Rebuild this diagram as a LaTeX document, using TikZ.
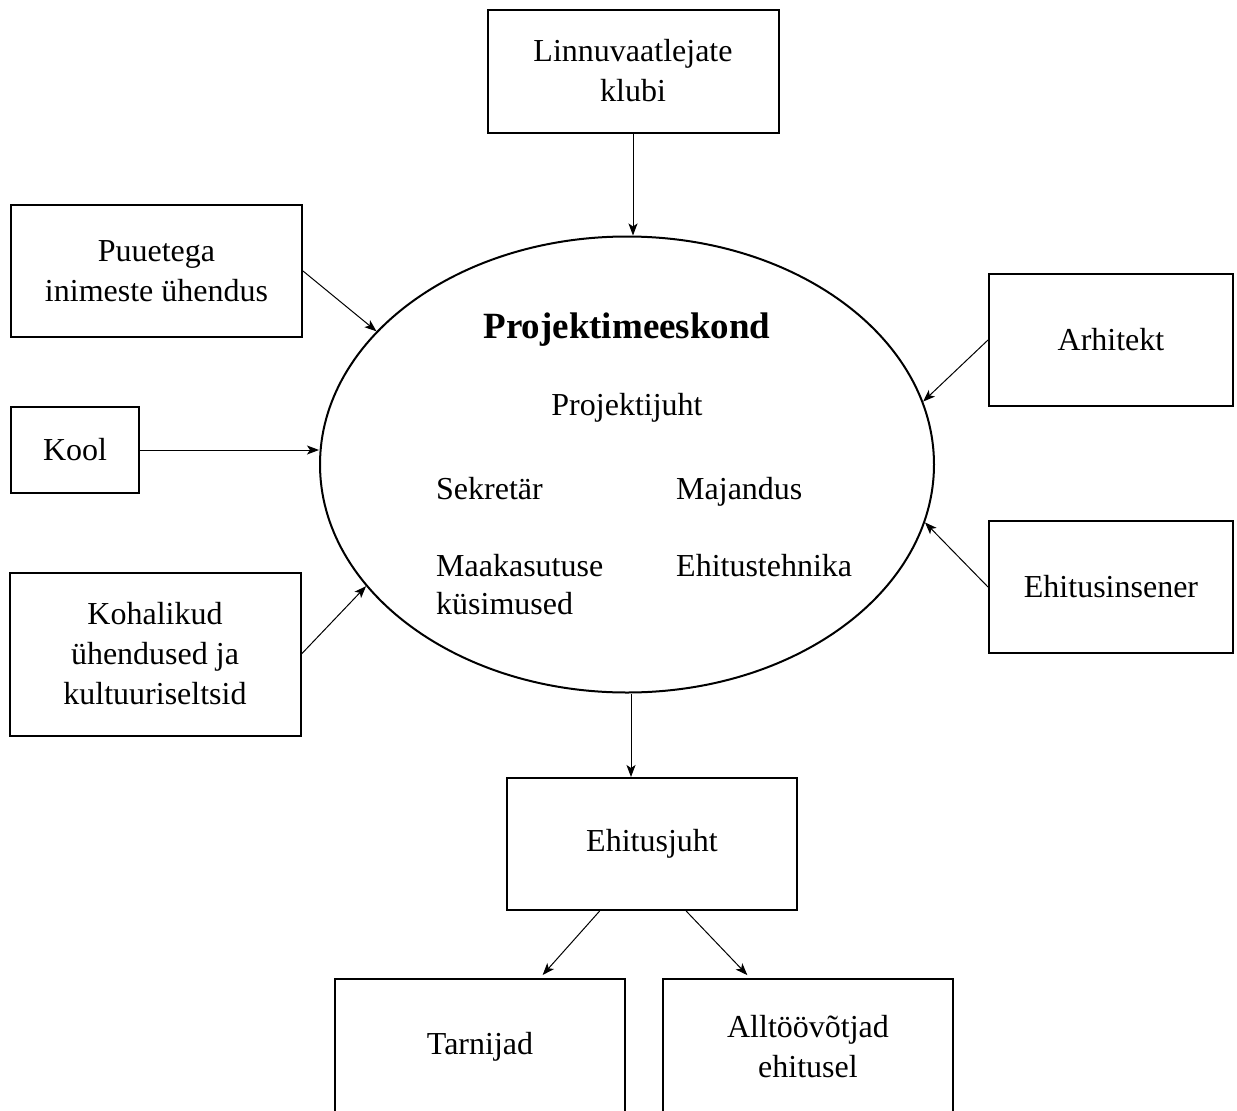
\documentclass[tikz,border=0pt]{standalone}
\usepackage{fontspec}
\setmainfont{Liberation Serif}
\usetikzlibrary{shapes.geometric, arrows.meta, positioning}

\begin{document}
\begin{tikzpicture}[
    x=1pt, y=-1pt,
    party/.style={rectangle, draw=black, line width=2pt, inner sep=0pt, minimum width=291pt, minimum height=132pt, align=center, font=\fontsize{32}{40}\selectfont},
    team/.style={ellipse, draw=black, line width=2pt, inner sep=0pt, minimum width=614pt, minimum height=456pt},
    role/.style={inner sep=0pt, align=left, text height=22pt, text depth=7pt, font=\fontsize{32}{38}\selectfont},
    arrow/.style={-{Stealth[length=12pt, width=9pt, inset=3pt]}, line width=1pt}
]
    \useasboundingbox (0,0) rectangle (1237,1111);

    % Project team in the middle
    \node (team) [team] at (627,464.5) {};
    \node (T_title) [role, text height=26pt, text depth=8pt, font=\fontsize{37}{44}\selectfont\bfseries] at (627,329) {Projektimeeskond};
    \node (T_lead) [role] at (627,408) {Projektijuht};
    \node (T_secr) [role, anchor=west] at (436,492) {Sekretär};
    \node (T_econ) [role, anchor=west] at (676,492) {Majandus};
    \node (T_land) [role, text height=, text depth=, anchor=north west] at (436,554) {Maakasutuse\\küsimused};
    \node (T_tech) [role, anchor=west] at (676,569) {Ehitustehnika};

    % Parties around the team
    \node (club) [party, minimum height=123pt] at (633,71) {Linnuvaatlejate\\klubi};
    \node (disab) [party] at (156.5,271) {Puuetega\\inimeste ühendus};
    \node (school) [party, minimum width=128pt, minimum height=86pt] at (75,450) {Kool};
    \node (local) [party, minimum height=163pt] at (155,654) {Kohalikud\\ühendused ja\\kultuuriseltsid};
    \node (arch) [party, minimum width=244pt] at (1111,340) {Arhitekt};
    \node (eng) [party, minimum width=244pt] at (1111,587) {Ehitusinsener};

    % Construction side
    \node (site) [party, minimum width=290pt] at (652,844) {Ehitusjuht};
    \node (supp) [party, minimum width=290pt, minimum height=136pt] at (480,1047) {Tarnijad};
    \node (subc) [party, minimum width=290pt, minimum height=136pt] at (808,1047) {Alltöövõtjad\\ehitusel};

    % Arrows into the team
    \draw [arrow] (club.south) -- (club.south |- team.north);
    \draw [arrow] (disab.east) -- (team.152.8);
    \draw [arrow] (school.east) -- (school.east -| team.west);
    \draw [arrow] (local.east) -- (team.205.9);
    \draw [arrow] (arch.west) -- (team.12.9);
    \draw [arrow] (eng.west) -- (team.-11.4);

    % Arrows out of the team
    \draw [arrow] ([xshift=4pt]team.south) -- ([xshift=4pt]team.south |- site.north);
    \draw [arrow, shorten >=4pt] (site.232.5) -- (supp.49.7);
    \draw [arrow, shorten >=4pt] (site.297.1) -- (subc.130.8);

\end{tikzpicture}
\end{document}
